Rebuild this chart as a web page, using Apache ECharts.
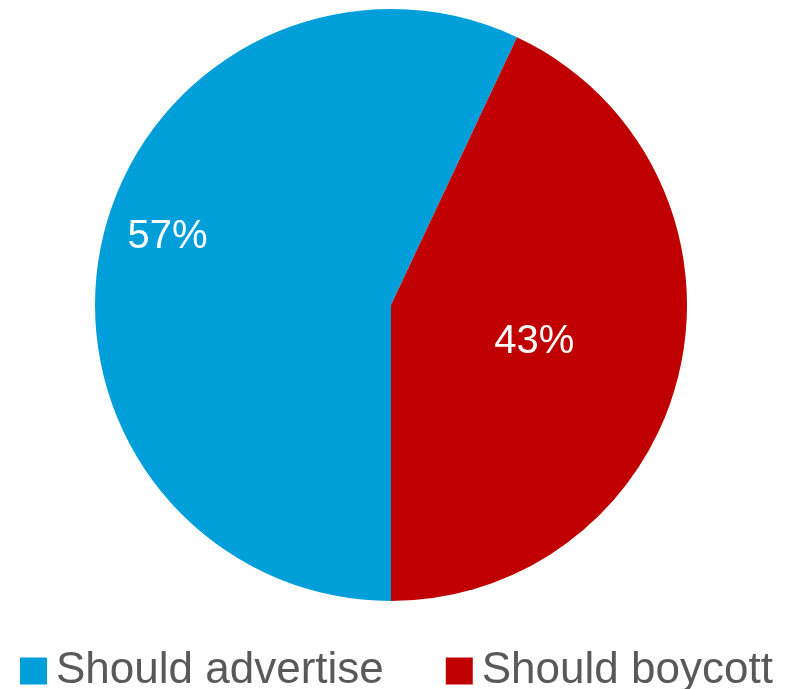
<!DOCTYPE html>
<html>
<head>
<meta charset="utf-8">
<script src="https://cdn.jsdelivr.net/npm/echarts@6/dist/echarts.min.js"></script>
<style>
html,body{margin:0;padding:0;background:#fff;}
#chart{width:789px;height:689px;}
</style>
</head>
<body>
<div id="chart"></div>
<script>
const categories = ["Should advertise", "Should boycott"];
const values = [57, 43];
const colors = ["#009FDA", "#C00000"];
const labelOffsets = [[-76, -35], [-4, 4]];

const chart = echarts.init(document.getElementById('chart'), null, {renderer: 'canvas'});
const FONT = '"Liberation Sans", Arial, sans-serif';
chart.setOption({
  animation: false,
  backgroundColor: '#ffffff',
  legend: {
    data: categories,
    left: 15,
    top: 644,
    itemWidth: 27,
    itemHeight: 27,
    itemGap: 62,
    icon: 'rect',
    textStyle: {fontFamily: FONT, fontSize: 44, color: '#595959', padding: [0, 0, 8, 4]}
  },
  series: [{
    type: 'pie',
    center: [391, 305],
    radius: [0, 296],
    startAngle: -90,
    clockwise: true,
    avoidLabelOverlap: false,
    label: {
      show: true,
      position: 'inside',
      formatter: '{c}%',
      color: '#ffffff',
      fontFamily: FONT,
      fontSize: 40
    },
    labelLine: {show: false},
    itemStyle: {borderWidth: 0},
    emphasis: {disabled: true},
    data: categories.map((c, i) => ({
      name: c,
      value: values[i],
      itemStyle: {color: colors[i]},
      label: {offset: labelOffsets[i]}
    }))
  }]
});
</script>
</body>
</html>
